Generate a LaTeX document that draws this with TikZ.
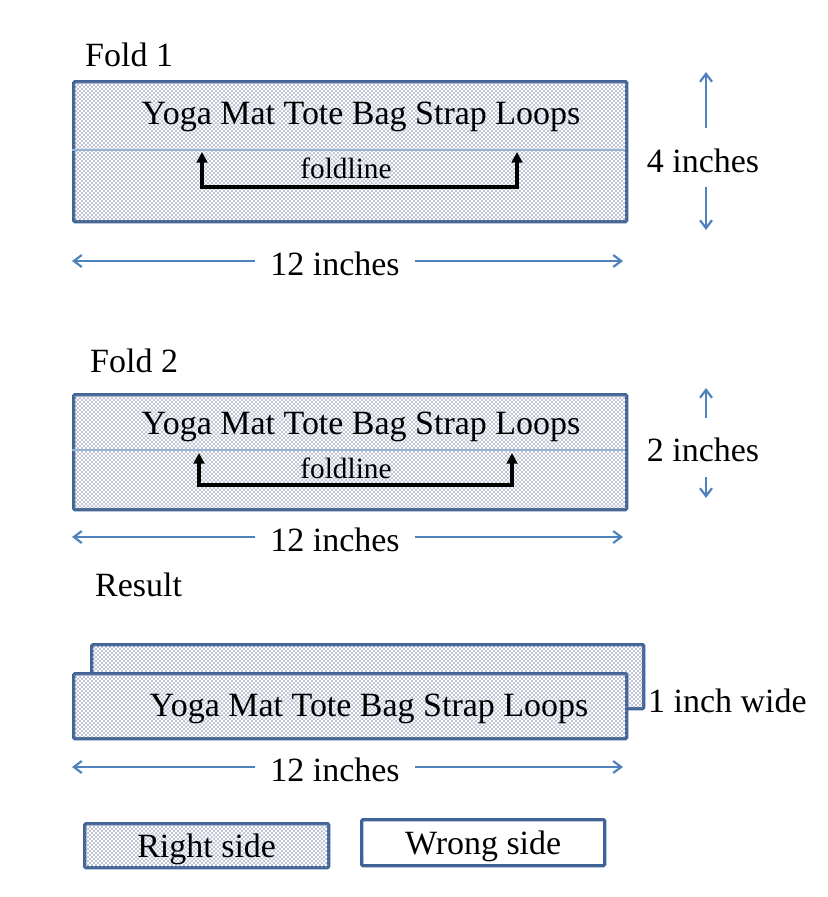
\documentclass[tikz,border=0pt]{standalone}
\usepackage{fontspec}
\setmainfont{Liberation Serif}
\usetikzlibrary{positioning, arrows.meta, patterns}

\definecolor{edge}{HTML}{3F6396}
\definecolor{dim}{HTML}{4F81BD}
\definecolor{fold}{HTML}{95B3D7}
\definecolor{dotc}{HTML}{8A93A8}

\pgfdeclarepatternformonly{fabric}{\pgfpointorigin}{\pgfpoint{3.4pt}{3.4pt}}{\pgfpoint{3.4pt}{3.4pt}}{%
	\pgfpathcircle{\pgfpoint{0.85pt}{0.85pt}}{0.7pt}%
	\pgfpathcircle{\pgfpoint{2.55pt}{2.55pt}}{0.7pt}%
	\pgfusepath{fill}}

\begin{document}
\begin{tikzpicture}[x=0.3mm, y=-0.3mm,
			box/.style={draw=edge, line width=1mm, rounded corners=0.4mm, anchor=north west, inner sep=0pt},
			mat/.style={box, fill=blue!2, postaction={pattern=fabric, pattern color=dotc}},
			plain/.style={box, fill=white},
			lbl/.style={font=\fontsize{29}{34}\selectfont, inner sep=0pt},
			small/.style={font=\fontsize{25}{30}\selectfont, inner sep=0pt},
			dimlbl/.style={lbl, inner xsep=4.5mm},
			dimarrow/.style={-{Straight Barb[length=2.4mm, width=3.6mm]}, dim, line width=0.65mm},
			loopline/.style={{Triangle[length=3.2mm, width=3.2mm]}-{Triangle[length=3.2mm, width=3.2mm]}, line width=1.2mm},
			foldln/.style={fold, line width=0.4mm}]
			\useasboundingbox (0,0) rectangle (828,897);
			% fold 1
			\node[lbl, anchor=west] (f1) at (85,55) {Fold 1};
			\node[mat, minimum width=165.9mm, minimum height=42mm] (r1) at (72,80) {};
			\draw[foldln] (72,150) -- (625,150);
			\node[lbl] (t1) at (361,117) {Yoga Mat Tote Bag Strap Loops};
			\node[small] (fl1) at (346,168) {foldline};
			\draw[loopline] (202,152) -- (202,187) -- (517,187) -- (517,152);
			\node[lbl] (h1) at (703,161) {4 inches};
			\coordinate (h1t) at (706,72);
			\coordinate (h1b) at (706,230);
			\draw[dimarrow] (706,128) -- (h1t);
			\draw[dimarrow] (706,187) -- (h1b);
			\node[dimlbl] (w1) at (335,264) {12 inches};
			\coordinate (w1l) at (72,261);
			\coordinate (w1r) at (623,261);
			\draw[dimarrow] (w1.west |- w1l) -- (w1l);
			\draw[dimarrow] (w1.east |- w1r) -- (w1r);
			% fold 2
			\node[lbl, anchor=west] (f2) at (90,361) {Fold 2};
			\node[mat, minimum width=165.9mm, minimum height=34.5mm] (r2) at (72,393) {};
			\draw[foldln] (72,450) -- (625,450);
			\node[lbl] (t2) at (361,427) {Yoga Mat Tote Bag Strap Loops};
			\node[small] (fl2) at (346,468) {foldline};
			\draw[loopline] (199,453) -- (199,485) -- (512,485) -- (512,453);
			\node[lbl] (h2) at (703,450) {2 inches};
			\coordinate (h2t) at (706,388);
			\coordinate (h2b) at (706,498);
			\draw[dimarrow] (706,418) -- (h2t);
			\draw[dimarrow] (706,477) -- (h2b);
			\node[dimlbl] (w2) at (335,540) {12 inches};
			\coordinate (w2l) at (72,537);
			\coordinate (w2r) at (623,537);
			\draw[dimarrow] (w2.west |- w2l) -- (w2l);
			\draw[dimarrow] (w2.east |- w2r) -- (w2r);
			% result
			\node[lbl, anchor=west] (res) at (95,585) {Result};
			\node[mat, minimum width=165.6mm, minimum height=19.2mm] (r3b) at (90,643) {};
			\node[mat, minimum width=165.9mm, minimum height=19.5mm] (r3) at (72,672) {};
			\node[lbl] (t3) at (369,709) {Yoga Mat Tote Bag Strap Loops};
			\node[lbl, anchor=west] (wide) at (648,701) {1 inch wide};
			\node[dimlbl] (w3) at (335,770) {12 inches};
			\coordinate (w3l) at (72,767);
			\coordinate (w3r) at (623,767);
			\draw[dimarrow] (w3.west |- w3l) -- (w3l);
			\draw[dimarrow] (w3.east |- w3r) -- (w3r);
			% key
			\node[mat, lbl, minimum width=73.2mm, minimum height=13.2mm] (rs) at (83,822) {};
			\node[lbl] at ([yshift=-1mm]rs.center) (rst) {Right side};
			\node[plain, lbl, minimum width=72.9mm, minimum height=13.8mm] (ws) at (360,818) {};
			\node[lbl] at ([yshift=-1mm]ws.center) (wst) {Wrong side};
		\end{tikzpicture}
\end{document}
